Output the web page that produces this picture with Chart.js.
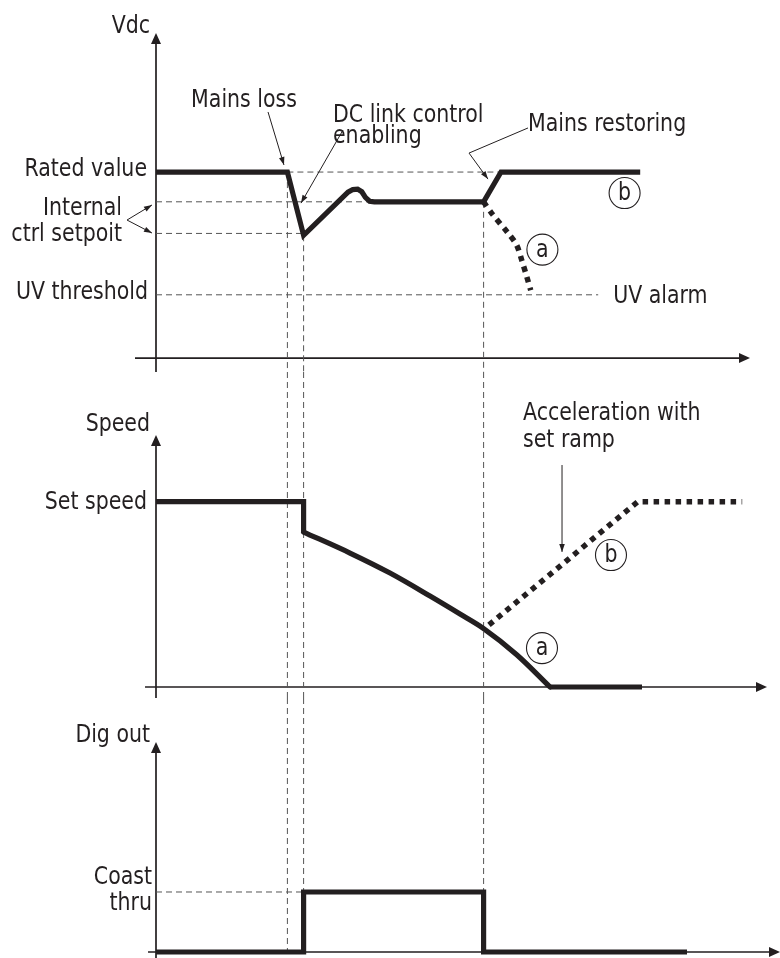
<!DOCTYPE html>
<html>
<head>
<meta charset="utf-8">
<title>Power loss ride-through</title>
<script src="https://cdn.jsdelivr.net/npm/chart.js@4.4.1/dist/chart.umd.min.js"></script>
<style>
  html, body { margin: 0; padding: 0; background: #ffffff; }
  #wrap { position: relative; width: 780px; height: 958px; overflow: hidden; }
  #wrap canvas { position: absolute; left: 0; display: block; }
</style>
</head>
<body>
<div id="wrap">
  <canvas id="vdcChart" width="780" height="372" style="top:0px"></canvas>
  <canvas id="speedChart" width="780" height="326" style="top:372px"></canvas>
  <canvas id="digChart" width="780" height="260" style="top:698px"></canvas>
</div>
<script>
// ---------- shared time axis (arbitrary units) ----------
const timeMin = -26;
const timeMax = 104;

// event instants
const tMainsLoss = 21.9;
const tDcLink = 24.6;
const tMainsBack = 54.6;

// ---------- DC link voltage, % of rated value ----------
const vdcMin = -7.5, vdcMax = 192.5;
const vdcRated = 100;
const vdcSetHigh = 84;
const vdcSetLow = 67;
const vdcUvThreshold = 34;
const vdcTickLabels = ['Rated value', ['Internal', 'ctrl setpoit'], 'UV threshold'];

// (b) mains comes back
const vdcTime  = [0, 21.9, 24.6, 32.0, 32.8, 33.6, 34.3, 34.9, 35.6, 36.4, 54.6, 57.5, 80.7];
const vdcValue = [100, 100, 66, 89.2, 90.6, 90.8, 89.4, 86.4, 84.3, 84, 84, 100, 100];
// (a) mains stays off -> undervoltage
const vdcLossTime  = [54.6, 55.95, 58.67, 60.1, 60.95, 61.8, 62.45];
const vdcLossValue = [84, 77.8, 67.2, 60.8, 52.7, 43.7, 36.5];

// ---------- motor speed, % of set speed ----------
const speedMin = -5.94, speedMax = 170;
const speedSet = 100;
const speedTickLabels = ['Set speed'];
// hold, step down when DC link control starts
const speedHoldTime  = [0, 24.6, 24.6];
const speedHoldValue = [100, 100, 83.6];
// coasting down while the DC link is supported
const speedCoastTime  = [24.6, 32.33, 39.0, 45.67, 50.67, 54.55, 60.17, 65.67];
const speedCoastValue = [83.6, 72.3, 61.5, 49.1, 39.4, 31.7, 17.3, 0];
// (a) standstill
const speedStopTime  = [65.67, 81];
const speedStopValue = [0, 0];
// (b) re-acceleration along the set ramp
const rampTime  = [55.5, 80.3, 97.7];
const rampValue = [33.5, 100, 100];

// ---------- digital output ----------
const digMin = -0.1, digMax = 4.2333;
const digCoast = 1;
const digTickLabels = ['Coast', 'thru'];
const digTime  = [0, 24.6, 24.6, 54.6, 54.6, 88.5];
const digValue = [0, 0, 1, 1, 0, 0];

// ---------- styling ----------
const INK = '#231f20';
const GUIDE = '#555555';

// Use a narrow sans when one is installed, otherwise a condensed fallback.
function fontInstalled(family) {
  const c = document.createElement('canvas').getContext('2d');
  const probe = 'Rated value UV threshold 0123';
  let differs = false;
  ['monospace', 'serif'].forEach(base => {
    c.font = '40px ' + base;
    const w0 = c.measureText(probe).width;
    c.font = '40px ' + family + ', ' + base;
    if (Math.abs(c.measureText(probe).width - w0) > 0.5) differs = true;
  });
  return differs;
}
const TEXT = [
  { family: '"Liberation Sans Narrow"', size: 25, scaleX: 1.11 },
  { family: '"DejaVu Sans Condensed"', size: 24, scaleX: 0.95 },
  { family: '"DejaVu Sans"', size: 22, scaleX: 0.88 },
  { family: 'sans-serif', size: 23, scaleX: 0.9 }
].find(f => f.family === 'sans-serif' || fontInstalled(f.family));
const TEXT_FONT = TEXT.size + 'px ' + TEXT.family + ', sans-serif';

const pts = (xs, ys) => xs.map((x, i) => ({ x: x, y: ys[i] }));

function solid(data, extra) {
  return Object.assign({ data: data, borderColor: INK, borderWidth: 5.2, tension: 0, pointRadius: 0,
           borderJoinStyle: 'miter', borderCapStyle: 'butt', fill: false }, extra || {});
}
function dotted(data, tension) {
  return { data: data, borderColor: INK, borderWidth: 5.5, tension: tension || 0, pointRadius: 0,
           borderDash: [5.5, 5.5], borderCapStyle: 'butt', fill: false };
}
function guide(data) {
  return { data: data, borderColor: GUIDE, borderWidth: 1, tension: 0, pointRadius: 0,
           borderDash: [6, 4], fill: false };
}

function arrowHead(ctx, x0, y0, x1, y1, len, half) {
  const a = Math.atan2(y1 - y0, x1 - x0);
  const c = Math.cos(a), s = Math.sin(a);
  ctx.beginPath();
  ctx.moveTo(x1, y1);
  ctx.lineTo(x1 - len * c + half * s, y1 - len * s - half * c);
  ctx.lineTo(x1 - len * c - half * s, y1 - len * s + half * c);
  ctx.closePath();
  ctx.fill();
}

// text with horizontal scaling of the chosen face
function drawText(ctx, text, x, y, align) {
  const w = ctx.measureText(text).width * TEXT.scaleX;
  const left = align === 'right' ? x - w : align === 'center' ? x - w / 2 : x;
  ctx.save();
  ctx.translate(left, y);
  ctx.scale(TEXT.scaleX, 1);
  ctx.textAlign = 'left';
  ctx.fillText(text, 0, 0);
  ctx.restore();
}

// Axes, texts, leader arrows and (a)/(b) markers for one panel.
function overlay(spec) {
  return {
    id: 'overlay',
    beforeDatasetsDraw(chart) {
      const ctx = chart.ctx, xs = chart.scales.x, ys = chart.scales.y;
      const x0 = xs.getPixelForValue(0);
      const y0 = ys.getPixelForValue(0);
      const yTip = ys.getPixelForValue(spec.yTip);
      const xA = xs.getPixelForValue(spec.xFrom);
      const xB = xs.getPixelForValue(spec.xTo);
      ctx.save();
      ctx.strokeStyle = INK; ctx.fillStyle = INK; ctx.lineWidth = 1.7;
      ctx.beginPath();
      ctx.moveTo(x0, chart.height); ctx.lineTo(x0, yTip + 6);
      ctx.moveTo(xA, y0); ctx.lineTo(xB - 6, y0);
      ctx.stroke();
      arrowHead(ctx, x0, chart.height, x0, yTip, 11, 5);
      arrowHead(ctx, xA, y0, xB, y0, 11, 5);
      ctx.restore();
    },
    afterDatasetsDraw(chart) {
      const ctx = chart.ctx, xs = chart.scales.x, ys = chart.scales.y;
      const px = t => xs.getPixelForValue(t);
      const py = v => ys.getPixelForValue(v);
      const x0 = px(0);
      ctx.save();
      ctx.fillStyle = INK; ctx.strokeStyle = INK;
      ctx.font = TEXT_FONT;

      // axis title beside the arrow tip
      ctx.textBaseline = 'alphabetic';
      drawText(ctx, spec.title, x0 - 6, py(spec.yTip) + (spec.titleDy || 0), 'right');

      // level labels
      ctx.textBaseline = 'middle';
      spec.ticks.forEach(tk => {
        const lines = Array.isArray(tk.text) ? tk.text : [tk.text];
        const yc = py(tk.value) + (tk.dy || 0);
        const lh = 26.5;
        lines.forEach((ln, i) => {
          drawText(ctx, ln, px(tk.t), yc + (i - (lines.length - 1) / 2) * lh, 'right');
        });
      });

      // free notes
      ctx.textBaseline = 'alphabetic';
      (spec.notes || []).forEach(n => drawText(ctx, n.text, px(n.t), py(n.v), n.align));

      // leader arrows
      ctx.lineWidth = 1;
      (spec.arrows || []).forEach(path => {
        const p = path.map(q => [px(q[0]), py(q[1])]);
        ctx.beginPath();
        ctx.moveTo(p[0][0], p[0][1]);
        for (let i = 1; i < p.length; i++) ctx.lineTo(p[i][0], p[i][1]);
        ctx.stroke();
        const a = p[p.length - 2], b = p[p.length - 1];
        arrowHead(ctx, a[0], a[1], b[0], b[1], 8, 2.8);
      });

      // circled case markers
      (spec.markers || []).forEach(m => {
        const cx = px(m.t), cy = py(m.v);
        ctx.lineWidth = 1.1;
        ctx.beginPath();
        ctx.arc(cx, cy, 15.5, 0, Math.PI * 2);
        ctx.stroke();
        ctx.textBaseline = 'middle';
        drawText(ctx, m.text, cx, cy + 1, 'center');
      });
      ctx.restore();
    }
  };
}

function makeChart(id, yMin, yMax, datasets, spec) {
  return new Chart(document.getElementById(id), {
    type: 'line',
    data: { datasets: datasets },
    options: {
      responsive: false,
      animation: false,
      devicePixelRatio: 1,
      events: [],
      layout: { padding: 0 },
      parsing: false,
      plugins: { legend: { display: false }, tooltip: { enabled: false } },
      scales: {
        x: { type: 'linear', min: timeMin, max: timeMax, display: false },
        y: { type: 'linear', min: yMin, max: yMax, display: false }
      }
    },
    plugins: [overlay(spec)]
  });
}

// ---------- panel 1: DC link voltage ----------
makeChart('vdcChart', vdcMin, vdcMax, [
  solid(pts(vdcTime, vdcValue)),
  dotted(pts(vdcLossTime, vdcLossValue), 0.3),
  guide([{ x: tMainsLoss, y: vdcRated }, { x: 57.5, y: vdcRated }]),
  guide([{ x: 0, y: vdcSetHigh }, { x: tMainsBack, y: vdcSetHigh }]),
  guide([{ x: 0, y: vdcSetLow }, { x: 24.2, y: vdcSetLow }]),
  guide([{ x: 0, y: vdcUvThreshold }, { x: 73.7, y: vdcUvThreshold }]),
  guide([{ x: tMainsLoss, y: vdcRated }, { x: tMainsLoss, y: vdcMin }]),
  guide([{ x: tDcLink, y: 66 }, { x: tDcLink, y: vdcMin }]),
  guide([{ x: tMainsBack, y: vdcSetHigh }, { x: tMainsBack, y: vdcMin }])
], {
  title: 'Vdc', yTip: 174.7, xFrom: -3.5, xTo: 99,
  ticks: [
    { text: vdcTickLabels[0], t: -1.5, value: vdcRated, dy: -2 },
    { text: vdcTickLabels[1], t: -5.67, value: (vdcSetHigh + vdcSetLow) / 2, dy: 4 },
    { text: vdcTickLabels[2], t: -1.33, value: vdcUvThreshold, dy: -2 }
  ],
  notes: [
    { text: 'Mains loss', t: 14.67, v: 134.9, align: 'center' },
    { text: 'DC link control', t: 29.5, v: 127.0, align: 'left' },
    { text: 'enabling', t: 29.5, v: 115.6, align: 'left' },
    { text: 'Mains restoring', t: 62, v: 122.0, align: 'left' },
    { text: 'UV alarm', t: 76.2, v: 29.6, align: 'left' }
  ],
  arrows: [
    [[18.67, 132.3], [21.33, 103.8]],
    [[31.17, 122.6], [24.17, 83.3]],
    [[62, 123.7], [52.17, 110.2], [55.33, 96.2]],
    [[-4.83, 74.2], [-0.67, 82.3]],
    [[-4.83, 74.2], [-0.67, 67.2]]
  ],
  markers: [
    { text: 'a', t: 64.4, v: 58.3 },
    { text: 'b', t: 78.1, v: 88.7 }
  ]
});

// ---------- panel 2: speed ----------
makeChart('speedChart', speedMin, speedMax, [
  solid(pts(speedHoldTime, speedHoldValue)),
  solid(pts(speedCoastTime, speedCoastValue), { cubicInterpolationMode: 'monotone', borderCapStyle: 'round' }),
  solid(pts(speedStopTime, speedStopValue)),
  dotted(pts(rampTime, rampValue), 0),
  guide([{ x: tMainsLoss, y: speedMax }, { x: tMainsLoss, y: speedMin }]),
  guide([{ x: tDcLink, y: speedMax }, { x: tDcLink, y: speedMin }]),
  guide([{ x: tMainsBack, y: speedMax }, { x: tMainsBack, y: speedMin }])
], {
  title: 'Speed', yTip: 136, titleDy: -4, xFrom: -1.83, xTo: 101.83,
  ticks: [
    { text: speedTickLabels[0], t: -1.5, value: speedSet, dy: 1 }
  ],
  notes: [
    { text: 'Acceleration with', t: 61.17, v: 144.1, align: 'left' },
    { text: 'set ramp', t: 61.17, v: 129.5, align: 'left' }
  ],
  arrows: [
    [[67.67, 119.8], [67.67, 72.9]]
  ],
  markers: [
    { text: 'b', t: 75.83, v: 71.2 },
    { text: 'a', t: 64.33, v: 21.0 }
  ]
});

// ---------- panel 3: digital output ----------
makeChart('digChart', digMin, digMax, [
  solid(pts(digTime, digValue)),
  guide([{ x: 0, y: digCoast }, { x: tDcLink, y: digCoast }]),
  guide([{ x: tMainsLoss, y: digMax }, { x: tMainsLoss, y: 0 }]),
  guide([{ x: tDcLink, y: digMax }, { x: tDcLink, y: digCoast }]),
  guide([{ x: tMainsBack, y: digMax }, { x: tMainsBack, y: digCoast }])
], {
  title: 'Dig out', yTip: 3.5, xFrom: -1.33, xTo: 104,
  ticks: [
    { text: digTickLabels, t: -0.67, value: digCoast, dy: -1 }
  ]
});
</script>
</body>
</html>
